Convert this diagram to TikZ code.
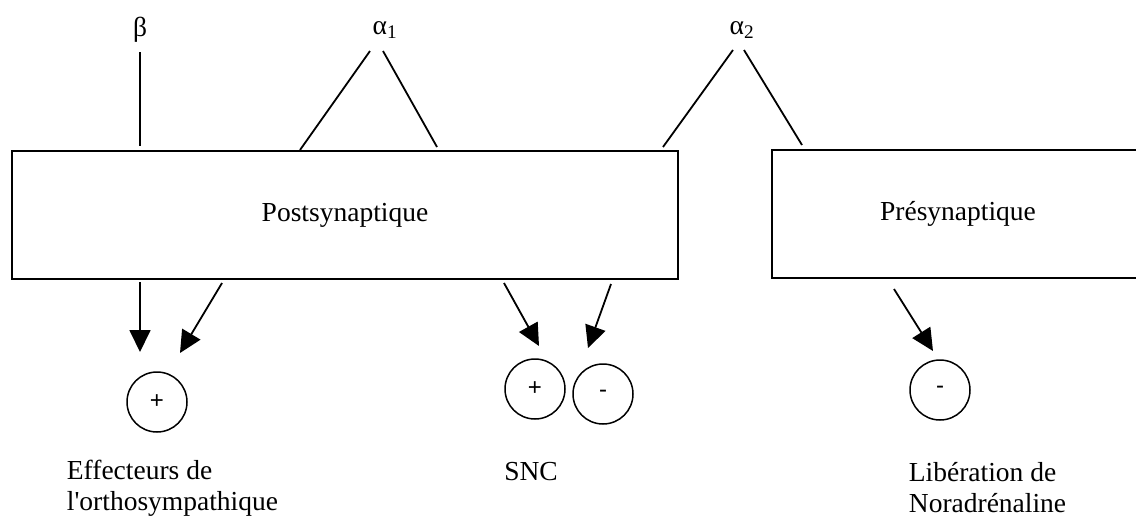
\documentclass[tikz,border=0pt]{standalone}
\usepackage{fontspec}
\setmainfont{Liberation Serif}
\newfontfamily\signfont{Liberation Sans}
\usetikzlibrary{arrows.meta}
\begin{document}
\begin{tikzpicture}[x=1pt,y=-1pt,line width=1.8pt,
  font=\fontsize{27.5}{31}\selectfont,
  box/.style={draw,rectangle,inner sep=0pt,minimum height=128pt},
  sign/.style={draw,circle,minimum size=60pt,inner sep=0pt,line width=1.5pt,font=\signfont\fontsize{24}{28}\selectfont},
  lbl/.style={inner sep=0pt,align=left},
  arr/.style={-{Triangle[length=22pt,width=21pt]}}]
\clip (0,0) rectangle (1136,520);
\fill[white] (0,0) rectangle (1136,520);
% boxes
\node[box,minimum width=666pt] (post) at (345,215) {Postsynaptique};
\node[box,minimum width=372pt] (pre) at (958,214) {Présynaptique};
% receptor labels
\node[inner sep=0pt] (beta) at (140,30) {β};
\node[inner sep=0pt] (alpha1) at (385,30) {α\textsubscript{1}};
\node[inner sep=0pt] (alpha2) at (742,30) {α\textsubscript{2}};
% receptor line ends
\coordinate (b1) at (140,52);   \coordinate (b2) at (140,146);
\coordinate (p1) at (370,51);   \coordinate (p2) at (300,150);
\coordinate (q1) at (383,51);   \coordinate (q2) at (437,147);
\coordinate (r1) at (733,50);   \coordinate (r2) at (663,147);
\coordinate (s1) at (744,50);   \coordinate (s2) at (802,145);
\draw (b1) -- (b2);
\draw (p1) -- (p2);
\draw (q1) -- (q2);
\draw (r1) -- (r2);
\draw (s1) -- (s2);
% effect circles
\node[sign] (c1) at (157,402) {+};
\node[sign] (c2) at (535,389) {+};
\node[sign] (c3) at (603,394) {-};
\node[sign] (c4) at (940,390) {-};
% arrows
\coordinate (a1s) at (140,282); \coordinate (a1e) at (140,352);
\coordinate (a2s) at (222,283); \coordinate (a2e) at (180,353);
\coordinate (a3s) at (504,283); \coordinate (a3e) at (539,346);
\coordinate (a4s) at (611,284); \coordinate (a4e) at (588,348);
\coordinate (a5s) at (894,289); \coordinate (a5e) at (933,351);
\draw[arr] (a1s) -- (a1e);
\draw[arr] (a2s) -- (a2e);
\draw[arr] (a3s) -- (a3e);
\draw[arr] (a4s) -- (a4e);
\draw[arr] (a5s) -- (a5e);
% bottom labels
\node[lbl,anchor=west] (eff) at (66,488) {Effecteurs de\\l\textquotesingle orthosympathique};
\node[inner sep=0pt] (snc) at (531,472) {SNC};
\node[lbl,anchor=west] (lib) at (908,488) {Libération de\\Noradrénaline};
\end{tikzpicture}
\end{document}
